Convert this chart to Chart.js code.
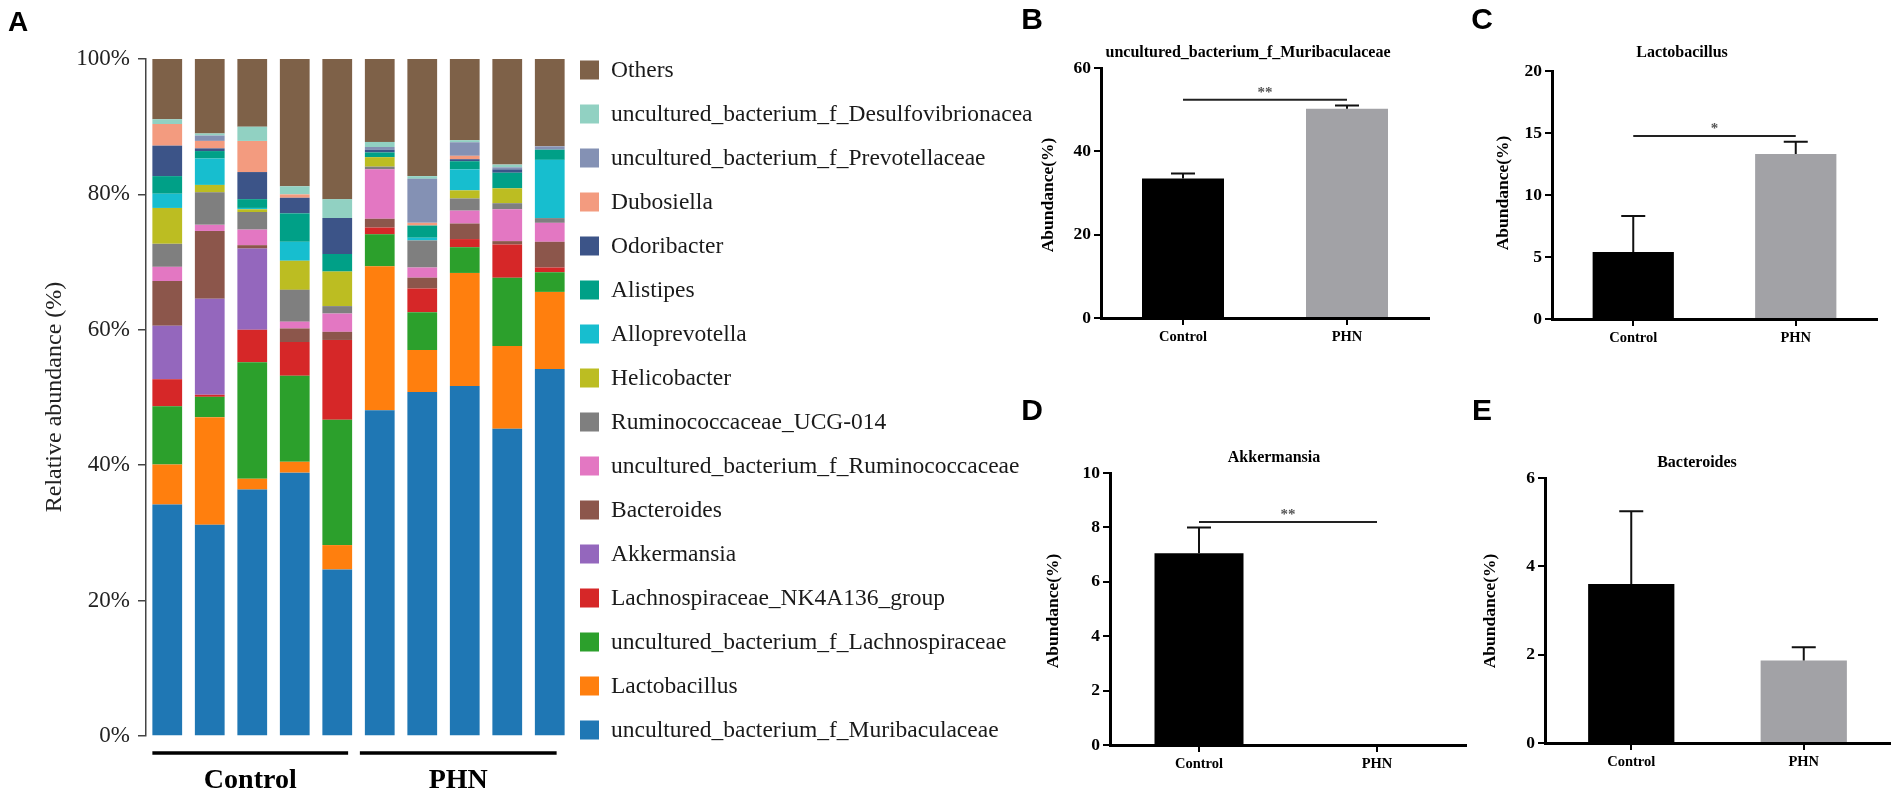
<!DOCTYPE html>
<html><head><meta charset="utf-8">
<script src="https://cdn.jsdelivr.net/npm/chart.js@4.4.1/dist/chart.umd.min.js"></script>
<style>
html,body{margin:0;padding:0;background:#fff;width:1902px;height:795px;overflow:hidden;}
canvas{position:absolute;}
</style></head><body>
<canvas id="cA" width="1040" height="795" style="left:0px;top:0px"></canvas>
<canvas id="cB" width="460" height="400" style="left:1000px;top:0px"></canvas>
<canvas id="cC" width="442" height="400" style="left:1460px;top:0px"></canvas>
<canvas id="cD" width="500" height="395" style="left:1000px;top:400px"></canvas>
<canvas id="cE" width="442" height="395" style="left:1460px;top:400px"></canvas>
<script>
// ---------- Panel A data ----------
const samples = ['C1','C2','C3','C4','C5','P1','P2','P3','P4','P5'];
const groupNames = ['Control','PHN'];
const groupSize = 5;
const taxa = ['uncultured_bacterium_f_Muribaculaceae','Lactobacillus','uncultured_bacterium_f_Lachnospiraceae',
  'Lachnospiraceae_NK4A136_group','Akkermansia','Bacteroides','uncultured_bacterium_f_Ruminococcaceae',
  'Ruminococcaceae_UCG-014','Helicobacter','Alloprevotella','Alistipes','Odoribacter','Dubosiella',
  'uncultured_bacterium_f_Prevotellaceae','uncultured_bacterium_f_Desulfovibrionacea','Others'];
const taxaColors = ['#1f77b4','#ff7f0e','#2ca02c','#d62728','#9467bd','#8c564b','#e377c2','#7f7f7f',
  '#bcbd22','#17becf','#00a087','#3c5488','#f39b7f','#8491b4','#91d1c2','#7e6148'];
const muribaculaceae   = [34.2, 31.2, 36.4, 38.9, 24.6, 48.1, 50.8, 51.7, 45.4, 54.2];
const lactobacillus    = [5.9, 15.9, 1.6, 1.6, 3.6, 21.3, 6.2, 16.7, 12.2, 11.4];
const lachnospiraceae  = [8.6, 3.0, 17.2, 12.7, 18.5, 4.7, 5.6, 3.8, 10.1, 2.9];
const nk4a136          = [4.0, 0.3, 4.8, 5.0, 11.8, 1.0, 3.5, 1.2, 4.9, 0.7];
const akkermansia      = [7.9, 14.2, 12.0, 0, 0, 0, 0, 0, 0, 0];
const bacteroides      = [6.6, 10.0, 0.5, 2.0, 1.2, 1.3, 1.6, 2.3, 0.5, 3.8];
const ruminococcaceae  = [2.1, 0.9, 2.3, 1.0, 2.7, 7.3, 1.5, 1.9, 4.7, 2.8];
const ucg014           = [3.4, 4.8, 2.6, 4.7, 1.1, 0.4, 4.0, 1.8, 0.9, 0.7];
const helicobacter     = [5.3, 1.1, 0.4, 4.3, 5.1, 1.4, 0, 1.2, 2.2, 0];
const alloprevotella   = [2.1, 3.9, 0.2, 2.8, 0, 0, 0.4, 3.1, 0, 8.6];
const alistipes        = [2.6, 1.1, 1.3, 4.2, 2.6, 0.7, 1.8, 1.2, 2.3, 1.5];
const odoribacter      = [4.5, 0.4, 4.0, 2.3, 5.3, 0.4, 0, 0.3, 0.5, 0];
const dubosiella       = [3.2, 1.1, 4.6, 0.5, 0, 0, 0.4, 0.5, 0, 0];
const prevotellaceae   = [0, 0.8, 0, 0, 0, 0.4, 6.5, 2.0, 0.3, 0.5];
const desulfovibrion   = [0.7, 0.3, 2.1, 1.2, 2.8, 0.75, 0.4, 0.3, 0.4, 0];
const others           = [8.9, 11.0, 10.0, 18.8, 20.7, 12.25, 17.3, 12.0, 15.6, 12.9];
const seriesA = [muribaculaceae, lactobacillus, lachnospiraceae, nk4a136, akkermansia, bacteroides,
  ruminococcaceae, ucg014, helicobacter, alloprevotella, alistipes, odoribacter, dubosiella,
  prevotellaceae, desulfovibrion, others];
const pctTicks = [0, 20, 40, 60, 80, 100];

// ---------- Panels B-E data ----------
const groups = ['Control', 'PHN'];
const groupColors = ['#000000', '#a2a2a6'];
const muriMean = [33.5, 50.2], muriErr = [1.2, 0.8];
const lactoMean = [5.4, 13.3], lactoErr = [2.9, 1.0];
const akkMean = [7.05, 0], akkErr = [0.95, 0];
const bactMean = [3.6, 1.87], bactErr = [1.65, 0.3];

const SERIF = '"Liberation Serif", "Times New Roman", serif';
const SANS = '"Liberation Sans", Arial, sans-serif';

function txt(ctx, s, x, y, font, color, align, rot) {
  ctx.save(); ctx.translate(x, y); if (rot) ctx.rotate(rot);
  ctx.font = font; ctx.fillStyle = color; ctx.textAlign = align || 'center'; ctx.textBaseline = 'middle';
  ctx.fillText(s, 0, 0); ctx.restore();
}

// ---------- Panel A ----------
const panelAPlugin = {
  id: 'panelA',
  afterDraw(chart) {
    const ctx = chart.ctx;
    txt(ctx, 'A', 18, 23, 'bold 28px ' + SANS, '#000');
    txt(ctx, 'Relative abundance (%)', 55, 397, '24px ' + SERIF, '#222', 'center', -Math.PI / 2);
    const bars = chart.getDatasetMeta(0).data;
    groupNames.forEach((g, gi) => {
      const a = bars[gi * groupSize], b = bars[gi * groupSize + groupSize - 1];
      const x1 = a.x - a.width / 2 - (gi ? 5 : 0), x2 = b.x + b.width / 2 - (gi ? 8 : 4);
      ctx.save(); ctx.strokeStyle = '#000'; ctx.lineWidth = 3.5;
      ctx.beginPath(); ctx.moveTo(x1, 753); ctx.lineTo(x2, 753); ctx.stroke(); ctx.restore();
      txt(ctx, g, (x1 + x2) / 2, 781, 'bold 28px ' + SERIF, '#000');
    });
    const ds = chart.data.datasets.slice().reverse();
    ds.forEach((d, i) => {
      const y = 70 + 44 * i;
      ctx.fillStyle = d.backgroundColor;
      ctx.fillRect(580, y - 9.5, 19, 19);
      txt(ctx, d.label, 611, y + 1, '23.5px ' + SERIF, '#1a1a1a', 'left');
    });
  }
};

new Chart(document.getElementById('cA'), {
  type: 'bar',
  data: {
    labels: samples,
    datasets: seriesA.map((v, i) => ({ label: taxa[i], data: v, backgroundColor: taxaColors[i],
      borderWidth: 0, barPercentage: 0.7, categoryPercentage: 1 }))
  },
  options: {
    responsive: false, animation: false, devicePixelRatio: 1,
    layout: { padding: { left: 0, top: 59, right: 1040 - 571, bottom: 795 - 736 } },
    plugins: { legend: { display: false }, tooltip: { enabled: false } },
    scales: {
      x: { stacked: true, display: false },
      y: {
        stacked: true, min: 0, max: 100,
        afterBuildTicks: s => { s.ticks = pctTicks.map(v => ({ value: v })); },
        ticks: { callback: v => v + '%', font: { family: SERIF, size: 23 }, color: '#222', padding: 8 },
        grid: { display: true, drawOnChartArea: false, drawTicks: true, tickLength: 8, color: '#444', lineWidth: 1.5 },
        border: { display: true, color: '#444', width: 1.5 },
        afterFit: s => { s.width = 146; }
      }
    }
  },
  plugins: [panelAPlugin]
});

// ---------- Panels B-E ----------
function statPanel(id, o) {
  const el = document.getElementById(id);
  const left = parseFloat(el.style.left), top = parseFloat(el.style.top);
  const W = el.width, H = el.height;
  const plugin = {
    id: 'stat_' + id,
    afterDatasetsDraw(chart) {
      const ctx = chart.ctx, y = chart.scales.y, bars = chart.getDatasetMeta(0).data;
      ctx.save(); ctx.strokeStyle = '#111'; ctx.lineWidth = 2;
      bars.forEach((b, i) => {
        if (!o.err[i]) return;
        const yt = y.getPixelForValue(o.mean[i] + o.err[i]);
        ctx.beginPath(); ctx.moveTo(b.x, b.y); ctx.lineTo(b.x, yt);
        ctx.moveTo(b.x - 12, yt); ctx.lineTo(b.x + 12, yt); ctx.stroke();
      });
      if (o.sig) {
        const ys = y.getPixelForValue(o.sig.at);
        ctx.lineWidth = 2; ctx.strokeStyle = '#222';
        ctx.beginPath(); ctx.moveTo(bars[0].x, ys); ctx.lineTo(bars[1].x, ys); ctx.stroke();
        txt(ctx, o.sig.mark, (bars[0].x + bars[1].x) / 2, ys - 7, 'bold 15px ' + SERIF, '#555');
      }
      ctx.restore();
    },
    afterDraw(chart) {
      const ctx = chart.ctx;
      txt(ctx, o.letter, o.letterXY[0] - left, o.letterXY[1] - top, 'bold 30px ' + SANS, '#000');
      txt(ctx, o.title, o.titleXY[0] - left, o.titleXY[1] - top, 'bold 16px ' + SERIF, '#000');
      txt(ctx, 'Abundance(%)', o.ytitleXY[0] - left, o.ytitleXY[1] - top, 'bold 17.5px ' + SERIF, '#000', 'center', -Math.PI / 2);
    }
  };
  const ca = o.area; // [left, top, right, bottom] page coords
  const tickFont = { family: SERIF, weight: 'bold', size: 17.5 };
  new Chart(el, {
    type: 'bar',
    data: { labels: groups, datasets: [{ data: o.mean, backgroundColor: groupColors, borderWidth: 0,
      barPercentage: 0.5, categoryPercentage: 1 }] },
    options: {
      responsive: false, animation: false, devicePixelRatio: 1,
      layout: { padding: { left: 0, top: ca[1] - top, right: left + W - ca[2], bottom: top + H - ca[3] - o.xh } },
      plugins: { legend: { display: false }, tooltip: { enabled: false } },
      scales: {
        x: {
          grid: { display: true, drawOnChartArea: false, drawTicks: true, tickLength: 7, color: '#000', lineWidth: 2, offset: false },
          border: { display: true, color: '#000', width: 3 },
          ticks: { font: { family: SERIF, weight: 'bold', size: 14.5 }, color: '#000', padding: 4 },
          afterFit: s => { s.height = o.xh; }
        },
        y: {
          min: 0, max: o.max,
          ticks: { stepSize: o.step, font: tickFont, color: '#000', padding: 3 },
          grid: { display: true, drawOnChartArea: false, drawTicks: true, tickLength: 7, color: '#000', lineWidth: 2 },
          border: { display: true, color: '#000', width: 3 },
          afterFit: s => { s.width = ca[0] - left; }
        }
      }
    },
    plugins: [plugin]
  });
}

statPanel('cB', { mean: muriMean, err: muriErr, max: 60, step: 20, sig: { at: 52.4, mark: '**' },
  area: [1101, 68, 1429, 318], xh: 60, letter: 'B', letterXY: [1032, 21],
  title: 'uncultured_bacterium_f_Muribaculaceae', titleXY: [1248, 53], ytitleXY: [1048, 195] });
statPanel('cC', { mean: lactoMean, err: lactoErr, max: 20, step: 5, sig: { at: 14.75, mark: '*' },
  area: [1552, 71, 1877, 319], xh: 60, letter: 'C', letterXY: [1482, 21],
  title: 'Lactobacillus', titleXY: [1682, 53], ytitleXY: [1503, 193] });
statPanel('cD', { mean: akkMean, err: akkErr, max: 10, step: 2, sig: { at: 8.2, mark: '**' },
  area: [1110, 473, 1466, 745], xh: 40, letter: 'D', letterXY: [1032, 412],
  title: 'Akkermansia', titleXY: [1274, 458], ytitleXY: [1053, 611] });
statPanel('cE', { mean: bactMean, err: bactErr, max: 6, step: 2, sig: null,
  area: [1545, 478, 1890, 743], xh: 40, letter: 'E', letterXY: [1482, 412],
  title: 'Bacteroides', titleXY: [1697, 463], ytitleXY: [1490, 611] });
</script>
</body></html>
